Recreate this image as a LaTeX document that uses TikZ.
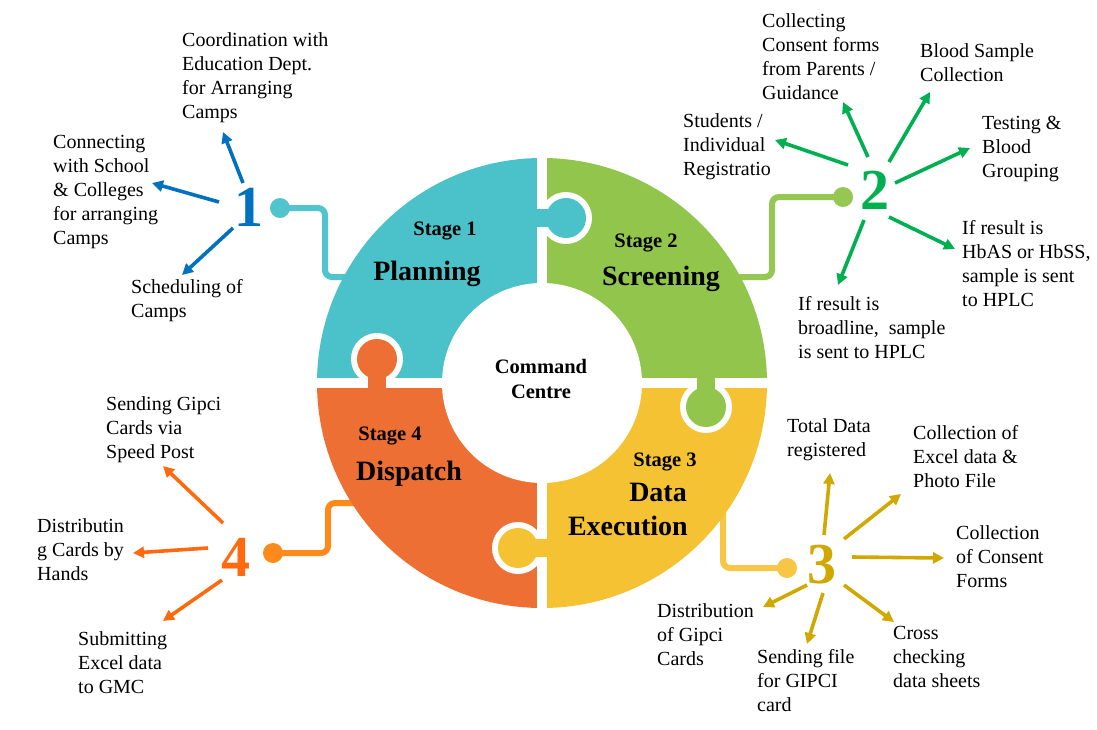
\documentclass[tikz,border=0pt]{standalone}
\usepackage{fontspec}
\setmainfont{Liberation Serif}
\usetikzlibrary{arrows.meta}
\definecolor{cteal}{HTML}{4BC1CA}
\definecolor{cgreen}{HTML}{92C54B}
\definecolor{cyellow}{HTML}{F5C233}
\definecolor{corange}{HTML}{EE6F33}
\definecolor{lteal}{HTML}{52C4CE}
\definecolor{lgreen}{HTML}{95C752}
\definecolor{lyellow}{HTML}{F7C646}
\definecolor{lorange}{HTML}{FF8A1C}
\definecolor{nblue}{HTML}{0070C0}
\definecolor{ngreen}{HTML}{00B050}
\definecolor{ngold}{HTML}{D1A800}
\definecolor{norange}{HTML}{FF6A0E}
\tikzset{
  lbl/.style={anchor=north west, inner sep=0pt, align=left, font=\fontsize{20}{24}\selectfont},
  bignum/.style={inner sep=0pt, font=\bfseries\fontsize{58}{58}\selectfont},
  stagelbl/.style={anchor=base, inner sep=0pt, font=\bfseries\fontsize{20.5}{24}\selectfont},
  stagename/.style={anchor=base, inner sep=0pt, font=\bfseries\fontsize{28}{32}\selectfont},
  arr/.style={line width=3.6pt, -{Triangle[length=11pt,width=11pt]}},
  conn/.style={line width=6pt, rounded corners=7pt},
  dot/.style={circle, inner sep=0pt, minimum size=20pt},
}
\begin{document}
\begin{tikzpicture}[x=1pt,y=-1pt]
\useasboundingbox (0,0) rectangle (1097,729);
\fill[white] (0,0) rectangle (1097,729);
\coordinate (C) at (542,383);

% connectors (drawn beneath the ring)
\node[dot, fill=lteal] (d1) at (280,208) {};
\node[dot, fill=lgreen] (d2) at (843,197) {};
\node[dot, fill=lyellow] (d3) at (787,568) {};
\node[dot, fill=lorange] (d4) at (273,553) {};
\coordinate (e1) at (365,277);
\coordinate (e2) at (725,277);
\coordinate (e3) at (723,505);
\coordinate (e4) at (365,503);
\draw[conn, lteal] (d1.center) -- (325,208) -- (325,277) -- (e1);
\draw[conn, lgreen] (d2.center) -- (772,197) -- (772,277) -- (e2);
\draw[conn, lyellow] (d3.center) -- (723,568) -- (e3);
\draw[conn, lorange] (d4.center) -- (328,553) -- (328,503) -- (e4);

% ring quadrants
\begin{scope}\clip (C) rectangle ++(-240,-240); \fill[cteal] (C) circle[radius=225]; \end{scope}
\begin{scope}\clip (C) rectangle ++(240,-240); \fill[cgreen] (C) circle[radius=225]; \end{scope}
\begin{scope}\clip (C) rectangle ++(240,240); \fill[cyellow] (C) circle[radius=225]; \end{scope}
\begin{scope}\clip (C) rectangle ++(-240,240); \fill[corange] (C) circle[radius=225]; \end{scope}
\draw[white, line width=10pt] (542,150) -- (542,616);
\draw[white, line width=10pt] (309,383) -- (775,383);
\fill[white] (C) circle[radius=100];

% puzzle tabs
% teal tab into green
\fill[white] (566,218) circle[radius=26];
\fill[white] (537,204) rectangle (566,232);
\fill[cteal] (530,209) rectangle (566,227);
\fill[cteal] (566,218) circle[radius=20];
% green tab into yellow
\fill[white] (706,407) circle[radius=26];
\fill[white] (692,378) rectangle (720,407);
\fill[cgreen] (697,370) rectangle (715,407);
\fill[cgreen] (706,407) circle[radius=20];
% yellow tab into orange
\fill[white] (518,548) circle[radius=26];
\fill[white] (518,534) rectangle (547,562);
\fill[cyellow] (518,539) rectangle (555,557);
\fill[cyellow] (518,548) circle[radius=20];
% orange tab into teal
\fill[white] (377,359) circle[radius=26];
\fill[white] (363,359) rectangle (391,388);
\fill[corange] (368,359) rectangle (386,396);
\fill[corange] (377,359) circle[radius=20];

% ring texts
\node[stagelbl] (s1) at (445,235) {Stage 1};
\node[stagename] (p1) at (427,280) {Planning};
\node[stagelbl] (s2) at (646,247) {Stage 2};
\node[stagename] (p2) at (661,285) {Screening};
\node[stagelbl] (s3) at (665,466) {Stage 3};
\node[stagename, anchor=base east] (p3a) at (687,501) {Data};
\node[stagename, anchor=base east] (p3b) at (688,535) {Execution};
\node[stagelbl] (s4) at (390,440) {Stage 4};
\node[stagename] (p4) at (409,480) {Dispatch};
\node[anchor=north, inner sep=0pt, align=center, font=\bfseries\fontsize{20.5}{25}\selectfont] (cc) at (541,355.5) {\strut Command\\Centre};

% numbers
\node[bignum, text=nblue] (n1) at (249,207) {1};
\node[bignum, text=ngreen] (n2) at (875,190) {2};
\node[bignum, text=ngold] (n3) at (822,565) {3};
\node[bignum, text=norange] (n4) at (236,557) {4};

% labels
\node[lbl] (l1a) at (182,29.2) {\strut Coordination with\\Education Dept.\\for Arranging\\Camps};
\node[lbl] (l1b) at (53,131.2) {\strut Connecting\\with School\\\& Colleges\\for arranging\\Camps};
\node[lbl] (l1c) at (131,276.2) {\strut Scheduling of\\Camps};
\node[lbl] (l2a) at (683,110.2) {\strut Students /\\Individual\\Registratio};
\node[lbl] (l2b) at (762,10.2) {\strut Collecting\\Consent forms\\from Parents /\\Guidance};
\node[lbl] (l2c) at (920,40.2) {\strut Blood Sample\\Collection};
\node[lbl] (l2d) at (982,112.2) {\strut Testing \&\\Blood\\Grouping};
\node[lbl] (l2e) at (962,217.2) {\strut If result is\\HbAS or HbSS,\\sample is sent\\to HPLC};
\node[lbl] (l2f) at (798,293.2) {\strut If result is\\broadline,\ \ sample\\is sent to HPLC};
\node[lbl] (l3a) at (787,415.2) {\strut Total Data\\registered};
\node[lbl] (l3b) at (913,422.2) {\strut Collection of\\Excel data \&\\Photo File};
\node[lbl] (l3c) at (956,522.2) {\strut Collection\\of Consent\\Forms};
\node[lbl] (l3d) at (893,622.2) {\strut Cross\\checking\\data sheets};
\node[lbl] (l3e) at (757,646.2) {\strut Sending file\\for GIPCI\\card};
\node[lbl] (l3f) at (657,600.2) {\strut Distribution\\of Gipci\\Cards};
\node[lbl] (l4a) at (106,393.2) {\strut Sending Gipci\\Cards via\\Speed Post};
\node[lbl] (l4b) at (37,515.2) {\strut Distributin\\g Cards by\\Hands};
\node[lbl] (l4c) at (78,628.2) {\strut Submitting\\Excel data\\to GMC};

% arrow end points
\coordinate (a1s) at (243,183); \coordinate (a1t) at (223,132);
\coordinate (b1s) at (219,202); \coordinate (b1t) at (152,183);
\coordinate (c1s) at (233,228); \coordinate (c1t) at (182,275);
\coordinate (a2s) at (848,165); \coordinate (a2t) at (775,140);
\coordinate (b2s) at (868,157); \coordinate (b2t) at (843,102);
\coordinate (c2s) at (889,162); \coordinate (c2t) at (930,92);
\coordinate (d2s) at (895,183); \coordinate (d2t) at (970,148);
\coordinate (e2s) at (889,217); \coordinate (e2t) at (955,249);
\coordinate (f2s) at (864,220); \coordinate (f2t) at (838,285);
\coordinate (a3s) at (824,535); \coordinate (a3t) at (830,473);
\coordinate (b3s) at (844,539); \coordinate (b3t) at (901,494);
\coordinate (c3s) at (852,557); \coordinate (c3t) at (944,558);
\coordinate (d3s) at (844,585); \coordinate (d3t) at (894,622);
\coordinate (e3s) at (823,593); \coordinate (e3t) at (807,644);
\coordinate (f3s) at (807,585); \coordinate (f3t) at (763,607);
\coordinate (a4s) at (223,523); \coordinate (a4t) at (163,466);
\coordinate (b4s) at (208,548); \coordinate (b4t) at (133,553);
\coordinate (c4s) at (222,580); \coordinate (c4t) at (163,621);

\draw[arr, nblue] (a1s) -- (a1t);
\draw[arr, nblue] (b1s) -- (b1t);
\draw[arr, nblue] (c1s) -- (c1t);
\draw[arr, ngreen] (a2s) -- (a2t);
\draw[arr, ngreen] (b2s) -- (b2t);
\draw[arr, ngreen] (c2s) -- (c2t);
\draw[arr, ngreen] (d2s) -- (d2t);
\draw[arr, ngreen] (e2s) -- (e2t);
\draw[arr, ngreen] (f2s) -- (f2t);
\draw[arr, ngold] (a3s) -- (a3t);
\draw[arr, ngold] (b3s) -- (b3t);
\draw[arr, ngold] (c3s) -- (c3t);
\draw[arr, ngold] (d3s) -- (d3t);
\draw[arr, ngold] (e3s) -- (e3t);
\draw[arr, ngold] (f3s) -- (f3t);
\draw[arr, norange] (a4s) -- (a4t);
\draw[arr, norange] (b4s) -- (b4t);
\draw[arr, norange] (c4s) -- (c4t);
\end{tikzpicture}
\end{document}
